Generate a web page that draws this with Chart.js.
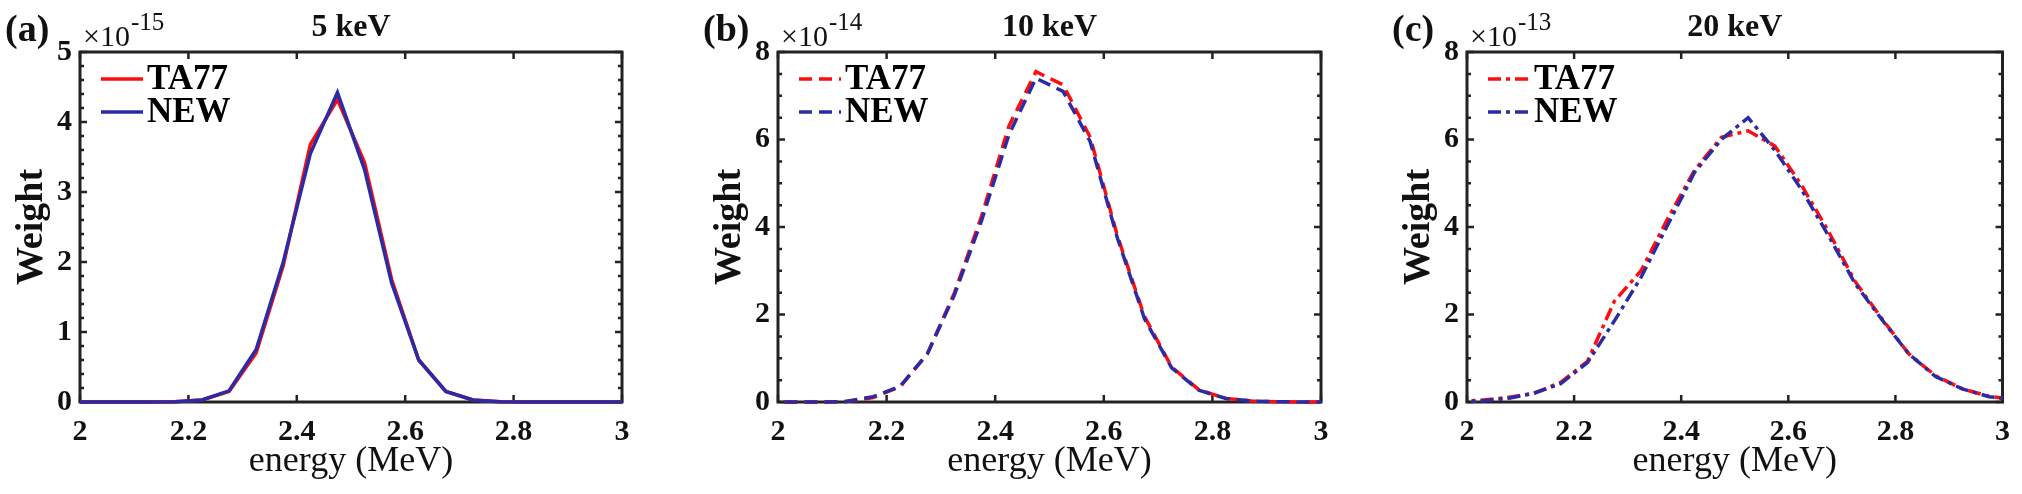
<!DOCTYPE html>
<html>
<head>
<meta charset="utf-8">
<script src="https://cdn.jsdelivr.net/npm/chart.js@4"></script>
<style>
  body { margin: 0; background: #fff; }
  #wrap { position: relative; width: 2022px; height: 494px; }
  canvas { position: absolute; top: 0; }
</style>
</head>
<body>
<div id="wrap">
  <canvas id="chartA" width="674" height="494" style="left:0px"></canvas>
  <canvas id="chartB" width="674" height="494" style="left:674px"></canvas>
  <canvas id="chartC" width="674" height="494" style="left:1348px"></canvas>
</div>
<script>
// bin centres (MeV); first and last lie just outside the axis and get clipped
const energy = [1.975, 2.025, 2.075, 2.125, 2.175, 2.225, 2.275, 2.325, 2.375, 2.425, 2.475,
  2.525, 2.575, 2.625, 2.675, 2.725, 2.775, 2.825, 2.875, 2.925, 2.975, 3.025];

// 5 keV, x1e-15
const ta77_5 = [0, 0, 0, 0, 0.005, 0.03, 0.15, 0.7, 1.95, 3.68, 4.32,
  3.42, 1.75, 0.6, 0.15, 0.03, 0.005, 0, 0, 0, 0, 0];
const new_5 = [0, 0, 0, 0, 0.005, 0.03, 0.16, 0.75, 2.0, 3.55, 4.42,
  3.32, 1.7, 0.6, 0.15, 0.03, 0.005, 0, 0, 0, 0, 0];

// 10 keV, x1e-14
const ta77_10 = [0, 0, 0, 0.01, 0.1, 0.35, 1.1, 2.5, 4.25, 6.3, 7.55,
  7.25, 6.05, 3.8, 1.95, 0.8, 0.28, 0.08, 0.02, 0.005, 0, 0];
const new_10 = [0, 0, 0, 0.01, 0.12, 0.36, 1.1, 2.45, 4.15, 6.1, 7.4,
  7.1, 5.95, 3.75, 1.9, 0.78, 0.27, 0.08, 0.02, 0.005, 0, 0];

// 20 keV, x1e-13
const ta77_20 = [0.01, 0.04, 0.1, 0.2, 0.45, 0.93, 2.3, 3.0, 4.2, 5.3, 6.05,
  6.2, 5.85, 4.95, 3.9, 2.75, 1.9, 1.1, 0.6, 0.3, 0.13, 0.05];
const new_20 = [0.005, 0.02, 0.08, 0.2, 0.42, 0.9, 1.85, 2.85, 4.05, 5.25, 6.0,
  6.5, 5.75, 4.85, 3.8, 2.7, 1.88, 1.1, 0.58, 0.3, 0.12, 0.05];

const xTicks = [2, 2.2, 2.4, 2.6, 2.8, 3];
const seriesNames = ["TA77", "NEW"];

const RED = "#ff0d0d";
const BLUE = "#2b2ba6";
const INK = "#222";
const SERIF = "'Liberation Serif', 'Times New Roman', serif";

// frame, inward ticks, legend and the loose labels around each panel
const deco = {
  id: "deco",
  beforeDatasetsDraw(chart, args, opts) {
    const { ctx, chartArea: a, scales } = chart;
    const x = scales.x, y = scales.y;
    ctx.save();
    ctx.strokeStyle = INK;
    ctx.lineWidth = 2.5;
    ctx.beginPath();
    xTicks.forEach((v) => {
      const px = x.getPixelForValue(v);
      ctx.moveTo(px, a.bottom); ctx.lineTo(px, a.bottom - 7);
      ctx.moveTo(px, a.top); ctx.lineTo(px, a.top + 7);
    });
    const n = Math.round(y.max / opts.minor);
    for (let i = 0; i <= n; i++) {
      const v = i * opts.minor;
      const major = Math.abs(v / opts.major - Math.round(v / opts.major)) < 1e-6;
      const len = major ? 7 : 4;
      const py = y.getPixelForValue(v);
      ctx.moveTo(a.left, py); ctx.lineTo(a.left + len, py);
      ctx.moveTo(a.right, py); ctx.lineTo(a.right - len, py);
    }
    ctx.stroke();
    ctx.lineWidth = 3;
    ctx.strokeRect(a.left, a.top, a.right - a.left, a.bottom - a.top);
    ctx.restore();
  },
  afterDraw(chart, args, opts) {
    const { ctx, chartArea: a } = chart;
    ctx.save();
    // legend
    chart.data.datasets.forEach((ds, i) => {
      const ly = a.top + 27 + i * 33;
      ctx.strokeStyle = ds.borderColor;
      ctx.lineWidth = ds.borderWidth;
      ctx.setLineDash(ds.borderDash || []);
      ctx.beginPath();
      ctx.moveTo(a.left + 21, ly); ctx.lineTo(a.left + 63, ly);
      ctx.stroke();
      ctx.setLineDash([]);
      ctx.fillStyle = "#000";
      ctx.font = "bold 35px " + SERIF;
      ctx.textBaseline = "middle";
      ctx.textAlign = "left";
      ctx.fillText(ds.label, a.left + 67, ly + 1);
    });

    ctx.fillStyle = "#111";
    // title
    ctx.font = "bold 32px " + SERIF;
    ctx.textAlign = "center";
    ctx.textBaseline = "middle";
    ctx.fillText(opts.title, (a.left + a.right) / 2, 28);
    // panel letter
    ctx.font = "bold 38px " + SERIF;
    ctx.textAlign = "left";
    ctx.fillText(opts.letter, a.left - 75, 31);
    // exponent
    ctx.font = "30px " + SERIF;
    ctx.textBaseline = "alphabetic";
    ctx.fillText("\u00d710", a.left + 3, 46);
    const w = ctx.measureText("\u00d710").width;
    ctx.font = "25px " + SERIF;
    ctx.fillText(opts.exp, a.left + 4 + w, 30);
    // axis titles
    ctx.font = "36px " + SERIF;
    ctx.textAlign = "center";
    ctx.textBaseline = "middle";
    ctx.fillText("energy (MeV)", (a.left + a.right) / 2, 462);
    ctx.translate(a.left - 48, (a.top + a.bottom) / 2);
    ctx.rotate(-Math.PI / 2);
    ctx.font = "bold 38px " + SERIF;
    ctx.fillText("Weight", 0, 0);
    ctx.restore();
  }
};

function makeChart(id, p) {
  const mk = (label, vals, color, order) => ({
    label,
    order,
    data: energy.map((e, i) => ({ x: e, y: vals[i] })),
    borderColor: color,
    borderWidth: 3.5,
    borderDash: p.dash,
    pointRadius: 0,
    tension: 0,
    fill: false,
    clip: { left: 0, top: 0, right: 0, bottom: 3 }
  });
  const tickFont = { family: SERIF, size: 30, weight: "bold" };
  return new Chart(document.getElementById(id), {
    type: "line",
    // NEW is plotted after TA77, so it sits on top
    data: { datasets: [mk(seriesNames[0], p.ta, RED, 1), mk(seriesNames[1], p.nw, BLUE, 0)] },
    options: {
      responsive: false,
      animation: false,
      layout: { padding: { top: 52, right: p.padRight, left: 0, bottom: 0 } },
      scales: {
        x: {
          type: "linear", min: 2, max: 3,
          afterBuildTicks: (s) => { s.ticks = xTicks.map((v) => ({ value: v })); },
          ticks: {
            font: tickFont, color: "#111", padding: 12, maxRotation: 0, autoSkip: false,
            callback: (v) => String(Number(v.toFixed(1)))
          },
          grid: { display: false, drawTicks: false },
          border: { display: false },
          afterFit: (s) => { s.height = 92; }
        },
        y: {
          min: 0, max: p.ymax,
          ticks: { stepSize: p.major, font: tickFont, color: "#111", padding: 8 },
          grid: { display: false, drawTicks: false },
          border: { display: false },
          afterFit: (s) => { s.width = p.yw; }
        }
      },
      plugins: {
        legend: { display: false },
        tooltip: { enabled: false },
        deco: { title: p.title, letter: p.letter, exp: p.exp, major: p.major, minor: p.minor }
      }
    },
    plugins: [deco]
  });
}

makeChart("chartA", { ta: ta77_5, nw: new_5, dash: [], ymax: 5, major: 1, minor: 0.2,
  title: "5 keV", letter: "(a)", exp: "-15", yw: 80, padRight: 52 });
makeChart("chartB", { ta: ta77_10, nw: new_10, dash: [13, 7], ymax: 8, major: 2, minor: 0.5,
  title: "10 keV", letter: "(b)", exp: "-14", yw: 104, padRight: 27 });
makeChart("chartC", { ta: ta77_20, nw: new_20, dash: [13, 5, 4, 5], ymax: 8, major: 2, minor: 0.5,
  title: "20 keV", letter: "(c)", exp: "-13", yw: 119, padRight: 13 });
</script>
</body>
</html>
